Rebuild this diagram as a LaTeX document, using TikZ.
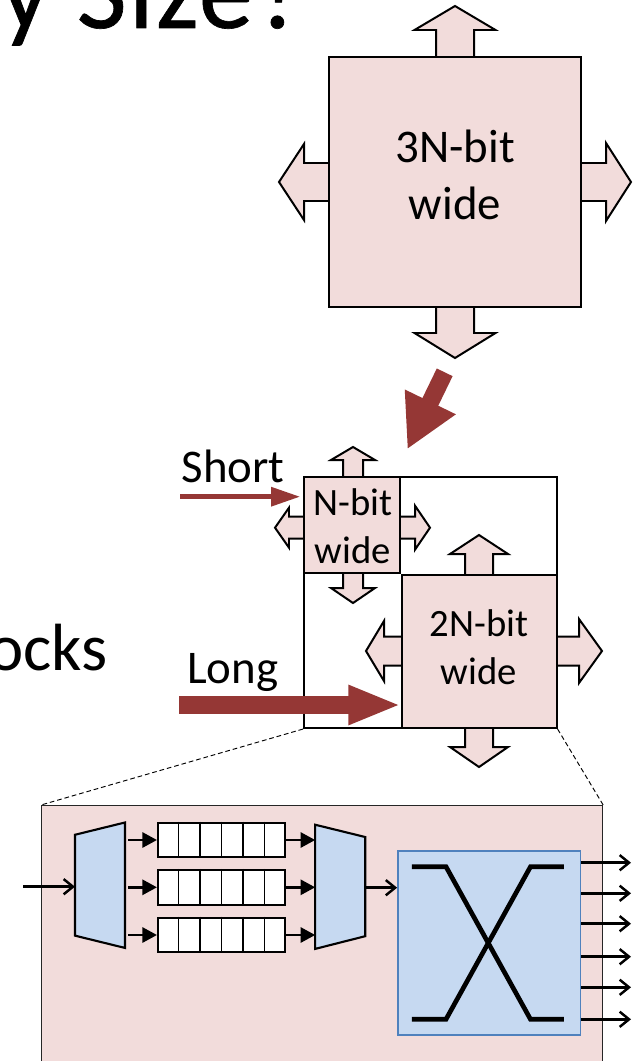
\documentclass[tikz,border=0pt]{standalone}
\usepackage{fontspec}
\setmainfont{Carlito}
\newfontfamily\slidefont[LetterSpace=2,FakeBold=0.6]{Carlito}
\usetikzlibrary{arrows.meta, positioning, calc}
\definecolor{blockpink}{HTML}{F2DCDB}
\definecolor{muxblue}{HTML}{C6D9F1}
\definecolor{barblue}{HTML}{4F81BD}
\definecolor{flowred}{HTML}{953735}
\newcommand{\px}{0.3mm}
% arrow stub: x, y, angle, length, head length, half shaft, half head
\newcommand{\portarrow}[7]{%
  \draw[portstub, shift={(#1,#2)}, rotate=#3] (0,-#6) -- ({#4-#5},-#6) -- ({#4-#5},-#7) -- (#4,0)
    -- ({#4-#5},#7) -- ({#4-#5},#6) -- (0,#6);
}
\begin{document}
\begin{tikzpicture}[
    x=\px, y=-\px,
    portstub/.style={draw=black, fill=blockpink, line width=1.7pt, line join=miter},
    bitblock/.style={rectangle, draw=black, fill=blockpink, line width=1.8pt, inner sep=0pt},
    biglabel/.style={font=\fontsize{40}{48.7}\selectfont, align=center, inner sep=0pt},
    smalllabel/.style={font=\fontsize{33}{41}\selectfont, align=center, inner sep=0pt},
    flowlabel/.style={font=\fontsize{40}{47}\selectfont, inner sep=0pt, anchor=base west},
    flowarrow/.style={flowred, line width=#1},
    muxshape/.style={draw=black, fill=muxblue, line width=1.8pt, line join=miter},
    queuebox/.style={rectangle, draw=black, fill=white, line width=1.8pt, inner sep=0pt,
        minimum width=127*\px, minimum height=34.6*\px},
    openarrow/.style={-{Straight Barb[length=8pt, width=13pt, line width=2.1pt]}, line width=2.1pt},
    solidarrow/.style={-{Triangle[length=12.5pt, width=13pt]}, line width=2.1pt},
    zoomline/.style={dash pattern=on 4pt off 2.5pt, line width=0.8pt}
]
\useasboundingbox (0,0) rectangle (637,1061);
\clip (0,0) rectangle (637,1061);

% Cropped slide text
\node[font=\slidefont\fontsize{93}{100}\selectfont, anchor=base east, inner sep=0pt] (slidetitle) at (306,28) {y Size?};
\node[font=\fontsize{57}{60}\selectfont, anchor=base east, inner sep=0pt] (slideline) at (108,670.5) {ocks};

% Stubs of the large router
\portarrow{455}{57}{90}{51}{24}{19}{40.5}
\portarrow{455}{307}{-90}{51}{25}{19}{40.5}
\portarrow{329}{182}{180}{50}{25}{19}{38}
\portarrow{581}{182}{0}{50}{25}{19}{39}

% Large router
\node[bitblock, minimum width=252*\px, minimum height=250*\px] (bigblock) at (455,182) {};
\node[biglabel] (bigtext) at (455,175) {3N-bit\\wide};

% Stubs of the small routers
\portarrow{353}{477}{90}{30}{13}{10}{22}
\portarrow{353}{573}{-90}{30}{15}{10}{22}
\portarrow{304}{527.7}{180}{29}{14}{11}{20}
\portarrow{400}{527.7}{0}{30}{15}{11}{22}
\portarrow{479}{575}{90}{40}{19}{14}{29}
\portarrow{479}{728}{-90}{39}{20}{14}{29}
\portarrow{402}{651}{180}{36}{18}{14.5}{30}
\portarrow{556.5}{651}{0}{45.5}{23}{14.5}{32}

% Mesh slice
\node[rectangle, draw=black, line width=1.8pt, inner sep=0pt, minimum width=252.5*\px, minimum height=251*\px] (sliceframe) at (430.3,602.5) {};
\node[bitblock, minimum width=96*\px, minimum height=96*\px] (narrowblock) at (352,525) {};
\node[bitblock, minimum width=154.5*\px, minimum height=153*\px] (wideblock) at (479.3,651.5) {};
\node[smalllabel] (narrowtext) at (353,526.5) {N-bit\\wide};
\node[smalllabel] (widetext) at (479,647) {2N-bit\\wide};

% Flows
\coordinate (shrinkstart) at (444.7,372.3);
\coordinate (shrinkend) at (407.3,449.3);
\draw[flowarrow=15pt, -{Triangle[length=45pt, width=45pt]}] (shrinkstart) -- (shrinkend);
\coordinate (shortstart) at (180,496.7);
\draw[flowarrow=4.5pt, -{Triangle[length=25pt, width=15.5pt]}, shorten >=2.5*\px] (shortstart) -- (narrowblock.west |- shortstart);
\coordinate (longstart) at (179,705);
\draw[flowarrow=15.4pt, -{Triangle[length=45pt, width=31pt]}] (longstart) -- (wideblock.west |- longstart);
\node[flowlabel] (shortlabel) at (181.5,482.7) {Short};
\node[flowlabel] (longlabel) at (187,683) {Long};

% Router detail
\node[rectangle, draw=black!85, fill=blockpink, line width=1pt, inner sep=0pt, anchor=north west,
    minimum width=561*\px, minimum height=262*\px] (detailpanel) at (41,805) {};
\draw[zoomline] (sliceframe.south west) -- (detailpanel.north west);
\draw[zoomline] (sliceframe.south east) -- (detailpanel.north east);

% Demux and mux
\node[minimum width=49.6*\px, minimum height=125*\px, inner sep=0pt] (demux) at (100,885.2) {};
\draw[muxshape] (demux.south east) -- (demux.north east) -- ($(demux.north west)+(0,12.3)$)
    -- ($(demux.south west)+(0,-12.3)$) -- cycle;
\node[minimum width=49.6*\px, minimum height=123.7*\px, inner sep=0pt] (mux) at (340.2,886.8) {};
\draw[muxshape] (mux.south west) -- (mux.north west) -- ($(mux.north east)+(0,12.3)$)
    -- ($(mux.south east)+(0,-12.7)$) -- cycle;

% Queues
\foreach \row/\cy in {1/840, 2/887.3, 3/935} {
    \node[queuebox] (queue\row) at (221.5,\cy) {};
    \foreach \cell in {1,...,5}
        \draw[line width=1.6pt] ($(queue\row.north west)!\cell/6!(queue\row.north east)$)
            -- ($(queue\row.south west)!\cell/6!(queue\row.south east)$);
    \draw[solidarrow, shorten <=3*\px] (demux.east |- queue\row) -- (queue\row.west);
    \draw[solidarrow] (queue\row.east) -- (mux.west |- queue\row);
}

% Crossbar
\node[rectangle, draw=barblue, fill=muxblue, line width=1.6pt, inner sep=0pt,
    minimum width=182.5*\px, minimum height=184*\px] (crossbar) at (489.3,943) {};
\draw[line width=4pt] (411.8,866.7) -- (446,866.7) -- (530.5,1019.3) -- (563.8,1019.3);
\draw[line width=4pt] (411.8,1019.3) -- (446,1019.3) -- (530.5,866.7) -- (563.8,866.7);

% Ports
\coordinate (inport) at (23,886.7);
\draw[openarrow] (inport) -- (demux.west |- inport);
\coordinate (muxout) at (365,887.7);
\draw[openarrow] (muxout) -- (crossbar.west |- muxout);
\foreach \port/\py in {1/862.7, 2/893.3, 3/923.7, 4/956.7, 5/987.3, 6/1019.3} {
    \coordinate (outport\port) at (631,\py);
    \draw[openarrow] (crossbar.east |- outport\port) -- (outport\port);
}

\end{tikzpicture}
\end{document}
